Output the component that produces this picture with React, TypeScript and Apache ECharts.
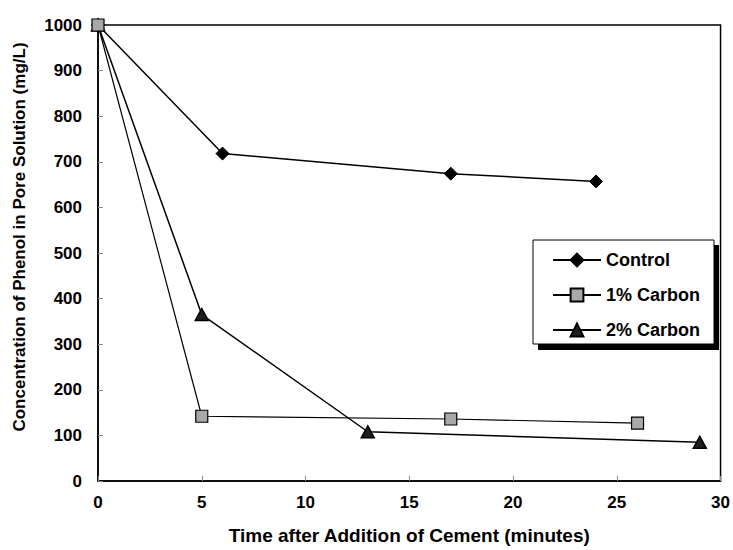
import React, { useEffect, useRef } from "react";
import * as echarts from "echarts";

const seriesNames = ["Control", "1% Carbon", "2% Carbon"];
const controlData: [number, number][] = [
  [0, 1000],
  [6, 718],
  [17, 674],
  [24, 657],
];
const carbon1Data: [number, number][] = [
  [0, 1000],
  [5, 142],
  [17, 136],
  [26, 127],
];
const carbon2Data: [number, number][] = [
  [0, 1000],
  [5, 365],
  [13, 108],
  [29, 85],
];
const xTitle = "Time after Addition of Cement (minutes)";
const yTitle = "Concentration of Phenol in Pore Solution (mg/L)";

const FONT = '"Liberation Sans", Arial, sans-serif';

export default function App() {
  const ref = useRef<HTMLDivElement>(null);
  useEffect(() => {
    if (!ref.current) return;
    const chart = echarts.init(ref.current, undefined, { renderer: "svg" });
    const lineStyle = { color: "#000", width: 1.5 };
    chart.setOption({
      animation: false,
      backgroundColor: "#fff",
      textStyle: { fontFamily: FONT },
      grid: {
        left: 98,
        top: 25,
        width: 623,
        height: 457,
        show: true,
        borderColor: "#000",
        borderWidth: 1.5,
        backgroundColor: "transparent",
      },
      xAxis: {
        type: "value",
        min: 0,
        max: 30,
        interval: 5,
        name: xTitle,
        nameLocation: "middle",
        nameGap: 45,
        nameTextStyle: { fontFamily: FONT, fontWeight: "bold", fontSize: 19, color: "#000" },
        axisLine: { show: true, lineStyle: { color: "#000", width: 1.5 } },
        axisTick: { show: true, inside: true, length: 5, lineStyle: { color: "#888" } },
        axisLabel: { fontFamily: FONT, fontWeight: "bold", fontSize: 17, color: "#000", margin: 13 },
        splitLine: { show: false },
      },
      yAxis: {
        type: "value",
        min: 0,
        max: 1000,
        interval: 100,
        axisLine: { show: true, lineStyle: { color: "#000", width: 1.5 } },
        axisTick: { show: true, inside: true, length: 5, lineStyle: { color: "#888" } },
        axisLabel: {
          fontFamily: FONT,
          fontWeight: "bold",
          fontSize: 17,
          color: "#000",
          margin: 16,
          formatter: (v: number) => String(v),
        },
        splitLine: { show: false },
      },
      legend: {
        orient: "vertical",
        left: 533,
        top: 240,
        padding: [11, 20, 11, 19],
        itemWidth: 48,
        itemHeight: 16,
        itemGap: 17,
        backgroundColor: "transparent",
        borderWidth: 0,
        data: seriesNames,
        textStyle: { fontFamily: FONT, fontWeight: "bold", fontSize: 18, color: "#000" },
      },
      graphic: [
        {
          type: "rect",
          shape: { x: 538, y: 245, width: 181, height: 105 },
          style: { fill: "#000" },
          z: -2,
        },
        {
          type: "rect",
          shape: { x: 533, y: 240, width: 181, height: 104 },
          style: { fill: "#fff", stroke: "#000", lineWidth: 1 },
          z: -1,
        },
        {
          type: "text",
          x: 19,
          y: 237,
          rotation: Math.PI / 2,
          style: {
            text: yTitle,
            font: `bold 17px ${FONT}`,
            fill: "#000",
            textAlign: "center",
            textVerticalAlign: "middle",
          },
        },
      ],
      series: [
        {
          name: seriesNames[0],
          type: "line",
          data: controlData,
          symbol: "diamond",
          symbolSize: 13,
          lineStyle,
          itemStyle: { color: "#000", borderColor: "#000", borderWidth: 1 },
          z: 2,
        },
        {
          name: seriesNames[2],
          type: "line",
          data: carbon2Data,
          symbol: "triangle",
          symbolSize: [13, 12],
          lineStyle,
          itemStyle: { color: "#1e1e1e", borderColor: "#000", borderWidth: 1.5 },
          z: 3,
        },
        {
          name: seriesNames[1],
          type: "line",
          data: carbon1Data,
          symbol: "rect",
          symbolSize: 12,
          lineStyle: { color: "#000", width: 1.2 },
          itemStyle: { color: "#a8a8a8", borderColor: "#000", borderWidth: 1.2 },
          z: 4,
        },
      ],
    });
    return () => chart.dispose();
  }, []);
  return (
    <div
      ref={ref}
      style={{ position: "fixed", left: 0, top: 0, width: 733, height: 550 }}
    />
  );
}
